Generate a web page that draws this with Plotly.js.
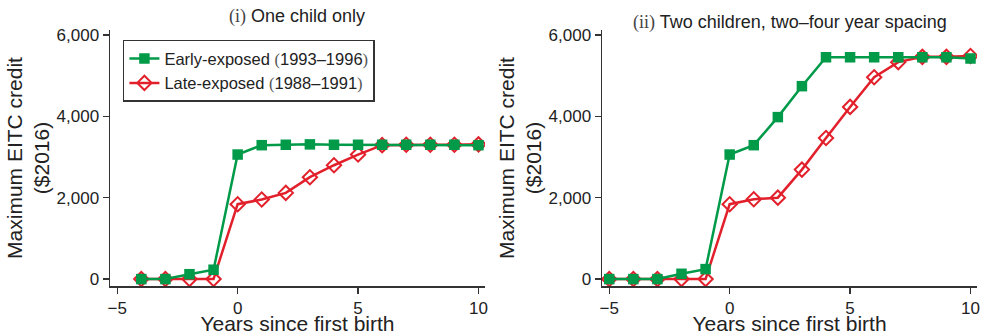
<!DOCTYPE html>
<html>
<head>
<meta charset="utf-8">
<script src="https://cdn.plot.ly/plotly-3.0.1.min.js"></script>
<style>html,body{margin:0;padding:0;background:#fff;}#chart{width:983px;height:335px;}</style>
</head>
<body>
<div id="chart"></div>
<script>
// Years since first birth
const yearsOne = [-4, -3, -2, -1, 0, 1, 2, 3, 4, 5, 6, 7, 8, 9, 10];
const yearsTwo = [-5, -4, -3, -2, -1, 0, 1, 2, 3, 4, 5, 6, 7, 8, 9, 10];

// Panel (i): One child only
const earlyOne = [0, 0, 120, 230, 3060, 3290, 3300, 3310, 3300, 3300, 3300, 3300, 3300, 3300, 3290];
const lateOne  = [0, 0, 0, 0, 1840, 1955, 2118, 2503, 2797, 3060, 3290, 3300, 3300, 3300, 3310];

// Panel (ii): Two children, two–four year spacing
const earlyTwo = [0, 0, 0, 130, 245, 3060, 3290, 3980, 4740, 5450, 5450, 5450, 5450, 5450, 5450, 5420];
const lateTwo  = [0, 0, 0, 0, 0, 1840, 1960, 2000, 2690, 3465, 4230, 4960, 5330, 5460, 5460, 5480];

const seriesNames = ['Early-exposed <span style="font-family:\'Liberation Serif\';color:#555">(</span>1993–1996<span style="font-family:\'Liberation Serif\';color:#555">)</span>',
                     'Late-exposed <span style="font-family:\'Liberation Serif\';color:#555">(</span>1988–1991<span style="font-family:\'Liberation Serif\';color:#555">)</span>'];
const panelTitles = ['<span style="font-family:\'Liberation Serif\';color:#444">(i)</span> One child only',
                     '<span style="font-family:\'Liberation Serif\';color:#444">(ii)</span> Two children, two–four year spacing'];
const xTicks = [-5, 0, 5, 10];
const yTicks = [0, 2000, 4000, 6000];

const GREEN = '#009a49';
const RED = '#e2202b';

function early(x, y, xa, ya, show) {
  return {x: x, y: y, xaxis: xa, yaxis: ya, type: 'scatter', mode: 'lines+markers',
    name: seriesNames[0], showlegend: show, legendrank: 1,
    line: {color: GREEN, width: 2.5},
    marker: {symbol: 'square', size: 10.5, color: GREEN}};
}
function late(x, y, xa, ya, show) {
  return {x: x, y: y, xaxis: xa, yaxis: ya, type: 'scatter', mode: 'lines+markers',
    name: seriesNames[1], showlegend: show, legendrank: 2,
    line: {color: RED, width: 2.5},
    marker: {symbol: 'diamond-open', size: 11, color: RED, line: {width: 2, color: RED}}};
}

const data = [
  late(yearsOne, lateOne, 'x', 'y', true),
  early(yearsOne, earlyOne, 'x', 'y', true),
  late(yearsTwo, lateTwo, 'x2', 'y2', false),
  early(yearsTwo, earlyTwo, 'x2', 'y2', false)
];

const tickFont = {family: 'Liberation Sans, Arial, sans-serif', size: 17, color: '#222'};
const titleFont = {family: 'Liberation Sans, Arial, sans-serif', size: 21, color: '#222'};

function xAxis(domain) {
  return {domain: domain, range: [-5.3, 10.27], tickvals: xTicks, ticks: 'outside', ticklen: 6,
    tickwidth: 1.3, tickcolor: '#333', showline: true, linecolor: '#333', linewidth: 1.5,
    showgrid: false, zeroline: false, tickfont: tickFont, automargin: false,
    ticklabelstandoff: 0,
    title: {text: 'Years since first birth', font: titleFont, standoff: 3}};
}
function yAxis(anchor) {
  return {domain: [0, 1], anchor: anchor, range: [-170, 6120], tickvals: yTicks, tickformat: ',',
    ticks: 'outside', ticklen: 6, tickwidth: 1.3, tickcolor: '#333', showline: true,
    linecolor: '#333', linewidth: 1.5, showgrid: false, zeroline: false, tickfont: tickFont,
    automargin: false,
    title: {text: 'Maximum EITC credit<br>($2016)', font: titleFont, standoff: 1}};
}

const layout = {
  width: 983, height: 335,
  margin: {l: 110, r: 6, t: 30, b: 49},
  paper_bgcolor: '#fff', plot_bgcolor: '#fff',
  showlegend: true,
  xaxis: Object.assign(xAxis([0, 0.4325]), {anchor: 'y'}),
  yaxis: yAxis('x'),
  xaxis2: Object.assign(xAxis([0.5675, 1]), {anchor: 'y2'}),
  yaxis2: yAxis('x2'),
  legend: {x: 0.0149, y: 0.962, xanchor: 'left', yanchor: 'top', xref: 'paper', yref: 'paper',
    bgcolor: '#fff', bordercolor: '#333', borderwidth: 1.5,
    font: {family: 'Liberation Sans, Arial, sans-serif', size: 16.5, color: '#222'},
    tracegroupgap: 0, itemwidth: 30},
  annotations: [
    {text: panelTitles[0], xref: 'x domain', yref: 'paper', x: 0.5, y: 1, yshift: 14,
     showarrow: false, xanchor: 'center', yanchor: 'middle',
     font: {family: 'Liberation Sans, Arial, sans-serif', size: 18, color: '#222'}},
    {text: panelTitles[1], xref: 'x2 domain', yref: 'paper', x: 0.5, y: 1, yshift: 8,
     showarrow: false, xanchor: 'center', yanchor: 'middle',
     font: {family: 'Liberation Sans, Arial, sans-serif', size: 18, color: '#222'}}
  ]
};

Plotly.newPlot('chart', data, layout, {displayModeBar: false, staticPlot: true});
</script>
</body>
</html>
